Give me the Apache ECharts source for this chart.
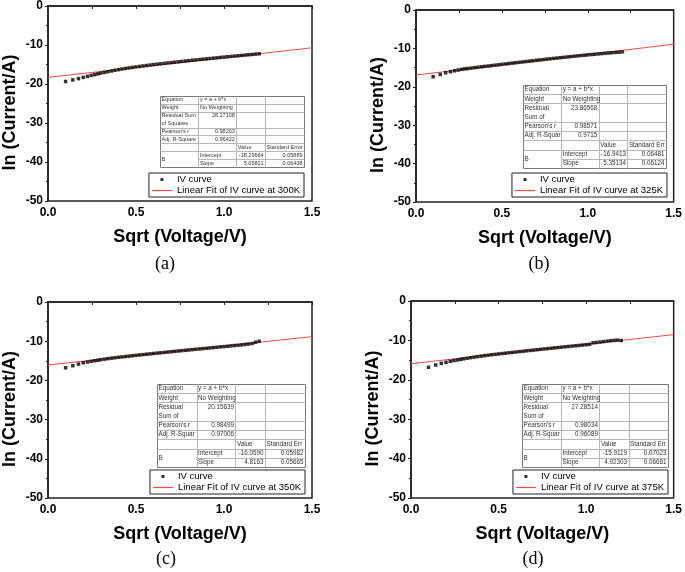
<!DOCTYPE html>
<html>
<head>
<meta charset="utf-8">
<script src="https://cdn.jsdelivr.net/npm/echarts@6/dist/echarts.min.js"></script>
<style>html,body{margin:0;padding:0;background:#fff}#c{width:685px;height:572px}</style>
</head>
<body>
<div id="c"></div>
<script>
// ---- data ----
const sqrtV = [0.100,0.141,0.173,0.200,0.224,0.245,0.265,0.283,
  0.30,0.32,0.34,0.36,0.38,0.40,0.42,0.44,0.46,0.48,
  0.50,0.52,0.54,0.56,0.58,0.60,0.62,0.64,0.66,0.68,
  0.70,0.72,0.74,0.76,0.78,0.80,0.82,0.84,0.86,0.88,
  0.90,0.92,0.94,0.96,0.98,1.00,1.02,1.04,1.06,1.08,
  1.10,1.12,1.14,1.16,1.18,1.20];
const lnI_300K = [-19.35,-18.95,-18.62,-18.30,-18.05,-17.80,-17.60,-17.40,
  -17.22,-17.02,-16.84,-16.66,-16.48,-16.32,-16.16,-16.01,-15.87,-15.74,
  -15.61,-15.49,-15.37,-15.25,-15.14,-15.03,-14.92,-14.82,-14.71,-14.61,
  -14.51,-14.41,-14.31,-14.21,-14.11,-14.02,-13.92,-13.83,-13.73,-13.64,
  -13.55,-13.46,-13.37,-13.28,-13.19,-13.10,-13.01,-12.93,-12.84,-12.76,
  -12.67,-12.59,-12.50,-12.42,-12.34,-12.26];
const lnI_325K = [-17.38,-16.78,-16.34,-16.06,-15.82,-15.63,-15.46,-15.32,
  -15.24,-15.13,-15.02,-14.91,-14.80,-14.69,-14.59,-14.48,-14.37,-14.27,
  -14.16,-14.05,-13.95,-13.84,-13.74,-13.63,-13.53,-13.42,-13.32,-13.22,
  -13.11,-13.01,-12.91,-12.81,-12.71,-12.61,-12.52,-12.42,-12.33,-12.23,
  -12.14,-12.05,-11.96,-11.87,-11.78,-11.69,-11.61,-11.52,-11.44,-11.36,
  -11.28,-11.20,-11.13,-11.06,-10.99,-10.92];
const lnI_350K = [-16.78,-16.25,-15.83,-15.50,-15.31,-15.14,-14.99,-14.86,
  -14.72,-14.58,-14.45,-14.33,-14.22,-14.11,-14.01,-13.91,-13.81,-13.71,
  -13.61,-13.51,-13.42,-13.32,-13.23,-13.13,-13.04,-12.95,-12.86,-12.77,
  -12.68,-12.59,-12.50,-12.41,-12.33,-12.24,-12.15,-12.07,-11.98,-11.89,
  -11.81,-11.72,-11.63,-11.55,-11.46,-11.38,-11.29,-11.20,-11.11,-11.02,
  -10.93,-10.83,-10.72,-10.58,-10.25,-10.02];
const lnI_375K = [-16.82,-16.24,-15.82,-15.56,-15.31,-15.13,-14.97,-14.82,
  -14.68,-14.53,-14.39,-14.25,-14.12,-13.99,-13.87,-13.75,-13.64,-13.54,
  -13.44,-13.34,-13.24,-13.14,-13.04,-12.94,-12.84,-12.75,-12.65,-12.55,
  -12.46,-12.36,-12.27,-12.17,-12.08,-11.99,-11.90,-11.81,-11.72,-11.63,
  -11.54,-11.45,-11.36,-11.27,-11.18,-11.09,-11.00,-10.62,-10.52,-10.42,
  -10.30,-10.18,-10.08,-9.99,-9.94,-10.05];
const fitX = [0, 1.5];
const fit_300K = [-18.30, -10.71];
const fit_325K = [-16.94, -8.91];
const fit_350K = [-16.06, -8.84];
const fit_375K = [-15.91, -8.53];
const temps = ['300K', '325K', '350K', '375K'];
const captions = ['(a)', '(b)', '(c)', '(d)'];
const xTickLabels = ['0.0', '0.5', '1.0', '1.5'];

const table_300K = [
  ['Equation', 'y = a + b*x'],
  ['Weight', 'No Weighting'],
  ['Residual Sum\nof Squares', '28.17108'],
  ["Pearson's r", '0.98203'],
  ['Adj. R-Square', '0.96422'],
  ['', '', 'Value', 'Standard Error'],
  ['B', 'Intercept', '-18.29664', '0.05889'],
  ['', 'Slope', '5.05821', '0.06438']];
const table_325K = [
  ['Equation', 'y = a + b*x'],
  ['Weight', 'No Weighting'],
  ['Residual\nSum of', '23.86568'],
  ["Pearson's r", '0.98571'],
  ['Adj. R-Squar', '0.9715'],
  ['', '', 'Value', 'Standard Err'],
  ['B', 'Intercept', '-16.9413', '0.06481'],
  ['', 'Slope', '5.35134', '0.06124']];
const table_350K = [
  ['Equation', 'y = a + b*x'],
  ['Weight', 'No Weighting'],
  ['Residual\nSum of', '20.15639'],
  ["Pearson's r", '0.98499'],
  ['Adj. R-Squar', '0.97006'],
  ['', '', 'Value', 'Standard Err'],
  ['B', 'Intercept', '-16.0590', '0.05982'],
  ['', 'Slope', '4.8163', '0.05665']];
const table_375K = [
  ['Equation', 'y = a + b*x'],
  ['Weight', 'No Weighting'],
  ['Residual\nSum of', '27.28514'],
  ["Pearson's r", '0.98034'],
  ['Adj. R-Squar', '0.96089'],
  ['', '', 'Value', 'Standard Err'],
  ['B', 'Intercept', '-15.9119', '0.07023'],
  ['', 'Slope', '4.92303', '0.06681']];

// ---- layout ----
const ys = [lnI_300K, lnI_325K, lnI_350K, lnI_375K];
const fits = [fit_300K, fit_325K, fit_350K, fit_375K];
const tables = [table_300K, table_325K, table_350K, table_375K];
const layout = [
  {grid:{left:48, top:6, width:264, height:195}, box:[160,96,144,71], fs:5.5, lr:381, lt:173, cx:165, cy:264},
  {grid:{left:416, top:10, width:258, height:192}, box:[523,85,143,83], fs:6.3, lr:18, lt:173, cx:539, cy:264},
  {grid:{left:48, top:302, width:264, height:196}, box:[157,384,148,83], fs:6.3, lr:380, lt:470, cx:166, cy:559},
  {grid:{left:411, top:301, width:264, height:197}, box:[522,384,146,83], fs:6.3, lr:17, lt:470, cx:533, cy:559}
];

const SANS = '"Liberation Sans", Arial, sans-serif';
const AX = '#222';
const RED = '#f24a4a';

function tableGraphic(rows, box, fs) {
  const [bx, by, bw, bh] = box;
  const cf = [0.267, 0.263, 0.2, 0.27];
  const cx = [bx];
  cf.forEach(f => cx.push(cx[cx.length - 1] + f * bw));
  const units = [1, 1, 2, 1, 1, 1, 1, 1];
  const u = bh / 9;
  const ry = [by];
  units.forEach(k => ry.push(ry[ry.length - 1] + k * u));
  const els = [];
  const font = fs + 'px ' + SANS;
  const r = v => Math.round(v) + 0.5;
  els.push({type:'rect', z:50, silent:true, shape:{x:r(bx), y:r(by), width:Math.round(bw), height:Math.round(bh)}, style:{fill:'#fff', stroke:'#7a7a7a', lineWidth:1}});
  for (let i = 1; i < 8; i++) {
    els.push({type:'line', z:51, silent:true, shape:{x1:(i === 7 ? r(cx[1]) : r(bx)), y1:r(ry[i]), x2:r(bx + bw), y2:r(ry[i])}, style:{stroke:'#b8b8b8', lineWidth:1}});
  }
  for (let j = 1; j < 4; j++) {
    els.push({type:'line', z:51, silent:true, shape:{x1:r(cx[j]), y1:r(by), x2:r(cx[j]), y2:r(by + bh)}, style:{stroke:'#b8b8b8', lineWidth:1}});
  }
  const txt = (s, x, y, align) => ({type:'text', z:52, silent:true, x:x, y:y,
    style:{text:s, font:font, fill:'#333', align:align, textAlign:align, verticalAlign:'middle', textVerticalAlign:'middle'}});
  rows.forEach((row, i) => {
    row.forEach((s, j) => {
      if (!s) return;
      const isNum = /^-?[\d.]+$/.test(s);
      const lines = s.split('\n');
      let yc = ry[i] + u / 2;
      if (i === 6 && j === 0) yc = ry[6] + u;
      lines.forEach((ln, k) => {
        if (isNum) els.push(txt(ln, cx[j + 1] - 1.5, yc + k * u, 'right'));
        else els.push(txt(ln, cx[j] + 1.5, yc + k * u, 'left'));
      });
    });
  });
  return els;
}

const grid = [], xAxis = [], yAxis = [], series = [], legend = [], graphic = [];
layout.forEach((L, i) => {
  grid.push(Object.assign({show:true, borderColor:AX, borderWidth:1.5, backgroundColor:'transparent'}, L.grid));
  xAxis.push({
    gridIndex:i, type:'value', min:0, max:1.5, interval:0.5,
    name:'Sqrt (Voltage/V)', nameLocation:'middle', nameGap:27,
    nameTextStyle:{fontFamily:SANS, fontWeight:'bold', fontSize:18, color:'#000'},
    axisLine:{lineStyle:{color:AX, width:1.5}},
    axisTick:{length:3, lineStyle:{color:AX, width:1}},
    minorTick:{show:true, splitNumber:2, length:3, lineStyle:{color:AX, width:1}},
    splitLine:{show:false},
    axisLabel:{formatter:(v) => xTickLabels[Math.round(v / 0.5)], fontFamily:SANS, fontWeight:'bold', fontSize:12, color:'#000', margin:6}
  });
  yAxis.push({
    gridIndex:i, type:'value', min:-50, max:0, interval:10,
    name:'ln (Current/A)', nameLocation:'middle', nameGap:29,
    nameTextStyle:{fontFamily:SANS, fontWeight:'bold', fontSize:18, color:'#000', padding:[0,18,0,0]},
    axisLine:{lineStyle:{color:AX, width:1.5}},
    axisTick:{length:3, lineStyle:{color:AX, width:1}},
    minorTick:{show:true, splitNumber:2, length:2, lineStyle:{color:AX, width:1}},
    splitLine:{show:false},
    axisLabel:{fontFamily:SANS, fontWeight:'bold', fontSize:12, color:'#000', margin:5}
  });
  const fitName = 'Linear Fit of IV curve at ' + temps[i];
  series.push({
    type:'line', name:fitName, xAxisIndex:i, yAxisIndex:i, z:2,
    data:fitX.map((x, k) => [x, fits[i][k]]), symbol:'none', silent:true,
    lineStyle:{color:RED, width:1}, itemStyle:{color:RED, borderColor:RED, borderWidth:0}
  });
  series.push({
    type:'scatter', name:'IV curve', xAxisIndex:i, yAxisIndex:i, z:3,
    data:sqrtV.map((x, k) => [x, ys[i][k]]), symbol:'rect', symbolSize:3.5, silent:true,
    itemStyle:{color:'#000'}
  });
  legend.push({
    data:[
      {name:'IV curve', icon:'path://M0,0H1V1H0Z', itemStyle:{color:'#000', borderWidth:0}},
      {name:fitName, icon:'path://M0,0H20V1.2H0Z', itemStyle:{color:RED, borderColor:RED, borderWidth:0}, lineStyle:{color:RED, width:1}}
    ],
    orient:'vertical', right:L.lr, top:L.lt, symbolKeepAspect:true,
    itemWidth:20, itemHeight:3, itemGap:0, padding:[1,4,1,3], selectedMode:false,
    itemStyle:{borderWidth:0},
    borderColor:'#222', borderWidth:1, backgroundColor:'#fff',
    textStyle:{fontFamily:SANS, fontSize:9.5, color:'#000', lineHeight:11}
  });
  tableGraphic(tables[i], L.box, L.fs).forEach(e => graphic.push(e));
  graphic.push({type:'text', x:L.cx, y:L.cy, silent:true,
    style:{text:captions[i], font:'18px "Liberation Serif", "Times New Roman", serif', fill:'#000', align:'center', textAlign:'center', verticalAlign:'middle', textVerticalAlign:'middle'}});
});

const chart = echarts.init(document.getElementById('c'), null, {renderer:'canvas'});
chart.setOption({
  animation:false, backgroundColor:'#fff',
  grid, xAxis, yAxis, series, legend, graphic
});
</script>
</body>
</html>
